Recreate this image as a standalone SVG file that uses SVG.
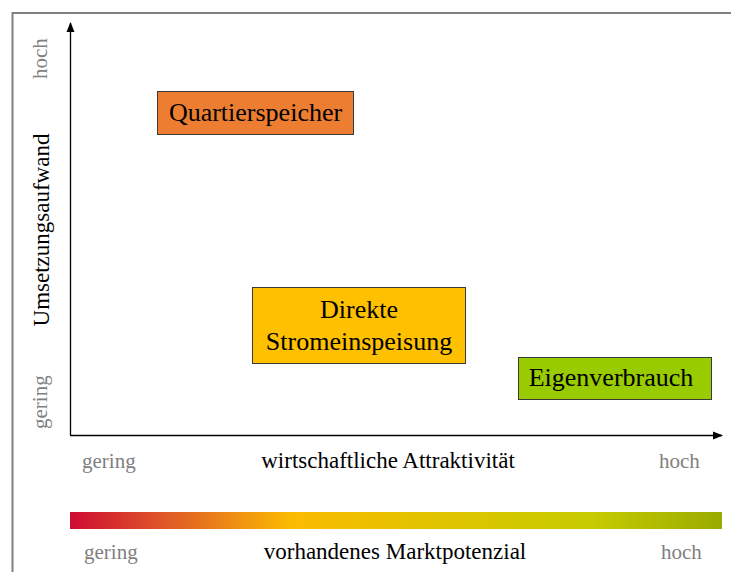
<svg xmlns="http://www.w3.org/2000/svg" width="731" height="572" viewBox="0 0 731 572">
<style>
  text { font-family: "Liberation Serif", "Times New Roman", serif; }
  .lbl { font-size: 26px; fill: #000; text-anchor: middle; }
  .ax { font-size: 23px; fill: #000; text-anchor: middle; }
  .gr { font-size: 21px; fill: #808080; }
  .box { stroke: #3a3a3a; stroke-width: 1; }
  .axis { stroke: #000; stroke-width: 1.3; fill: none; }
</style>
<defs>
  <marker id="arr" viewBox="0 0 10 10" refX="9" refY="5" markerWidth="10" markerHeight="10" markerUnits="userSpaceOnUse" orient="auto">
    <path d="M0,1 L10,5 L0,9 Z" fill="#000"/>
  </marker>
  <linearGradient id="grad" x1="0" y1="0" x2="1" y2="0">
    <stop offset="0" stop-color="#cf0c32"/>
    <stop offset="0.15" stop-color="#df5a28"/>
    <stop offset="0.34" stop-color="#fbbc00"/>
    <stop offset="0.55" stop-color="#e2c300"/>
    <stop offset="0.8" stop-color="#c6cc00"/>
    <stop offset="1" stop-color="#9aab00"/>
  </linearGradient>
</defs>
<rect width="731" height="572" fill="#fff"/>
<!-- frame -->
<path d="M12.5,572 L12.5,13 L731,13" fill="none" stroke="#808080" stroke-width="2"/>

<g id="connectors">
  <line class="axis" x1="70.5" y1="435" x2="70.5" y2="23" marker-end="url(#arr)"/>
  <line class="axis" x1="70" y1="435.5" x2="722" y2="435.5" marker-end="url(#arr)"/>
</g>

<g id="y-axis-labels">
  <text class="gr" transform="translate(47,79) rotate(-90)">hoch</text>
  <text class="ax" transform="translate(49,230) rotate(-90)">Umsetzungsaufwand</text>
  <text class="gr" transform="translate(47,429) rotate(-90)">gering</text>
</g>

<g id="x-axis-labels">
  <text class="gr" x="82" y="468">gering</text>
  <text class="ax" x="388" y="468">wirtschaftliche Attraktivität</text>
  <text class="gr" x="659" y="468">hoch</text>
</g>

<g id="node-quartierspeicher">
  <rect class="box" x="157.5" y="91.5" width="196" height="43" fill="#ed7d31"/>
  <text class="lbl" x="255.5" y="121">Quartierspeicher</text>
</g>

<g id="node-direkte-stromeinspeisung">
  <rect class="box" x="252.5" y="287.5" width="213" height="76" fill="#ffc000"/>
  <text class="lbl" x="359" y="318">Direkte</text>
  <text class="lbl" x="359" y="350">Stromeinspeisung</text>
</g>

<g id="node-eigenverbrauch">
  <rect class="box" x="518.5" y="357.5" width="193" height="42" fill="#99cc00"/>
  <text class="lbl" x="611" y="386">Eigenverbrauch</text>
</g>

<g id="legend">
  <rect x="70" y="512" width="652" height="17" fill="url(#grad)"/>
  <text class="gr" x="84" y="559">gering</text>
  <text class="ax" x="395" y="559">vorhandenes Marktpotenzial</text>
  <text class="gr" x="661" y="559">hoch</text>
</g>
</svg>
